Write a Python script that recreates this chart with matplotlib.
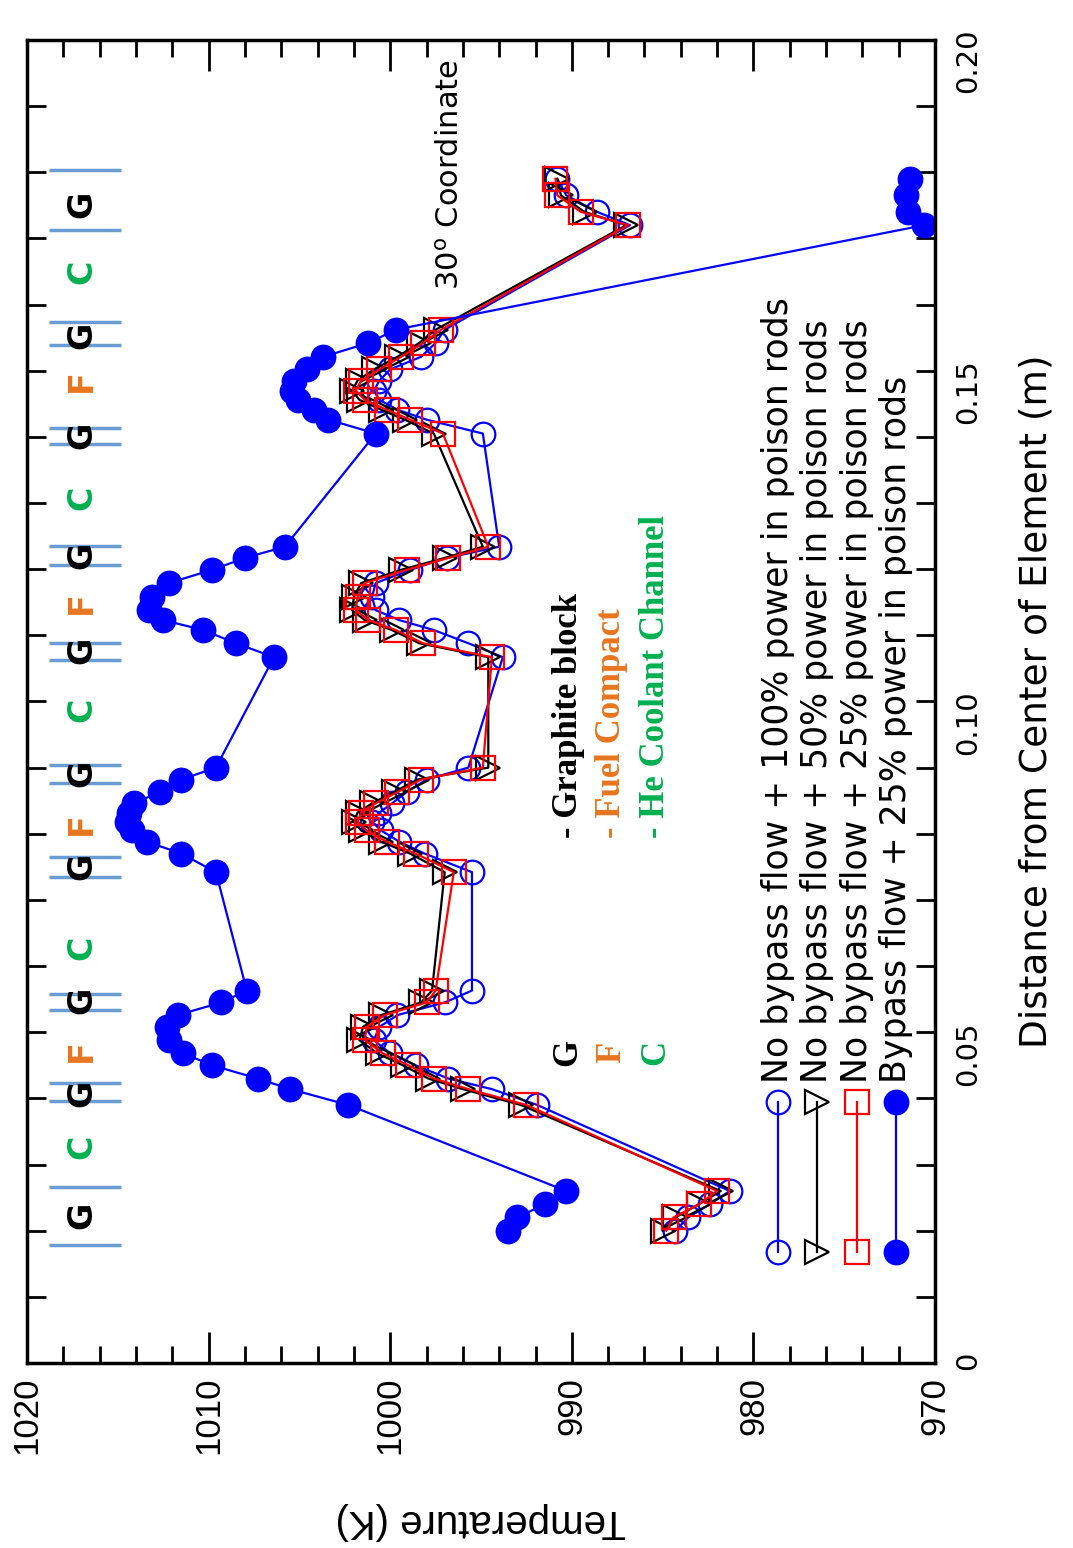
import matplotlib.pyplot as plt
from matplotlib.ticker import MultipleLocator, FuncFormatter

# radial positions (m), shared by all four cases
distance = [0.0200, 0.0220, 0.0240, 0.0260,
            0.0390, 0.0414, 0.0430, 0.0450, 0.0468, 0.0488, 0.0508, 0.0526, 0.0545, 0.0563,
            0.0742, 0.0770, 0.0788, 0.0805, 0.0818, 0.0832, 0.0846, 0.0863, 0.0882, 0.0900,
            0.1067, 0.1088, 0.1108, 0.1123, 0.1138, 0.1158, 0.1179, 0.1199, 0.1217, 0.1234,
            0.1405, 0.1426, 0.1441, 0.1456, 0.1470, 0.1485, 0.1502, 0.1521, 0.1542, 0.1562,
            0.1720, 0.1740, 0.1765, 0.1790]

temp_nobypass_100 = [984.3, 983.6, 982.4, 981.3,
                     991.9, 994.4, 996.8, 998.6, 1000.0, 1000.9, 1000.6, 999.6, 997.0, 995.5,
                     995.5, 998.1, 999.5, 1000.5, 1001.0, 1000.6, 999.9, 999.1, 998.0, 995.7,
                     993.8, 995.7, 997.6, 999.5, 1000.8, 1001.0, 1000.8, 998.9, 996.9, 994.0,
                     994.9, 998.0, 999.6, 1000.6, 1000.9, 1000.6, 1000.0, 998.3, 997.5, 997.0,
                     986.8, 988.6, 990.3, 990.8]

temp_nobypass_50 = [985.0, 984.3, 983.0, 981.8,
                    992.8, 996.0, 997.9, 999.3, 1000.7, 1001.7, 1001.5, 1000.5, 998.3, 997.7,
                    997.0, 998.9, 1000.5, 1001.6, 1002.0, 1001.8, 1001.0, 999.8, 998.5, 994.6,
                    994.6, 998.4, 999.9, 1001.4, 1002.1, 1002.0, 1001.6, 999.4, 997.0, 994.9,
                    997.6, 999.2, 1000.5, 1001.7, 1002.1, 1001.8, 1000.9, 999.6, 998.4, 997.5,
                    987.0, 989.3, 990.6, 990.8]

temp_nobypass_25 = [984.8, 984.4, 983.0, 982.0,
                    992.5, 995.7, 997.6, 999.0, 1000.4, 1001.4, 1001.3, 1000.3, 998.0, 997.5,
                    996.5, 998.6, 1000.2, 1001.3, 1001.8, 1001.6, 1000.8, 999.6, 998.3, 994.9,
                    994.4, 998.2, 999.7, 1001.2, 1001.9, 1001.8, 1001.4, 999.1, 996.8, 994.6,
                    997.1, 998.9, 1000.2, 1001.4, 1001.9, 1001.6, 1000.6, 999.4, 998.2, 997.2,
                    986.9, 989.5, 990.8, 990.9]

temp_bypass_25 = [993.5, 993.0, 991.5, 990.3,
                  1002.3, 1005.5, 1007.3, 1009.8, 1011.4, 1012.2, 1012.3, 1011.7, 1009.3, 1007.9,
                  1009.6, 1011.5, 1013.4, 1014.2, 1014.5, 1014.4, 1014.1, 1012.7, 1011.5, 1009.6,
                  1006.4, 1008.5, 1010.3, 1012.5, 1013.3, 1013.1, 1012.2, 1009.8, 1008.0, 1005.8,
                  1000.8, 1003.4, 1004.2, 1005.1, 1005.4, 1005.3, 1004.6, 1003.7, 1001.2, 999.7,
                  970.6, 971.5, 971.6, 971.4]

labels = ['No bypass flow + 100% power in poison rods',
          'No bypass flow + 50% power in poison rods',
          'No bypass flow + 25% power in poison rods',
          'Bypass flow + 25% power in poison rods']

# material regions along the path
region_letters = ['G', 'C', 'G', 'F', 'G', 'C', 'G', 'F', 'G', 'C',
                  'G', 'F', 'G', 'C', 'G', 'F', 'G', 'C', 'G']
region_centers = [0.0224, 0.0327, 0.0408, 0.0473, 0.0549, 0.0627, 0.0751, 0.0816, 0.0892, 0.0987,
                  0.1078, 0.1149, 0.1221, 0.1308, 0.1403, 0.1485, 0.1554, 0.1649, 0.1751]
region_bounds = [0.0178, 0.0266, 0.0396, 0.0423, 0.0534, 0.0558, 0.0735, 0.0765, 0.0877, 0.0904,
                 0.1063, 0.1088, 0.1206, 0.1235, 0.1389, 0.1413, 0.1539, 0.1574, 0.1713, 0.1803]

ORANGE = '#e8741e'
GREEN = '#00b050'
letter_colors = {'G': 'black', 'F': ORANGE, 'C': GREEN}

series = [
    (temp_nobypass_100, dict(color='#0000ff', marker='o', mfc='none')),
    (temp_nobypass_50, dict(color='black', marker='>', mfc='none')),
    (temp_nobypass_25, dict(color='red', marker='s', mfc='none')),
    (temp_bypass_25, dict(color='#0000ff', marker='o', mfc='#0000ff')),
]

fig = plt.figure(figsize=(10.73, 15.48), dpi=100)
ax = fig.add_axes([0.0252, 0.1195, 0.8462, 0.8547])

for temps, style in series:
    ax.plot(temps, distance, lw=1.6, ms=17, mew=1.6, **style)

ax.set_xlim(1020, 970)
ax.set_ylim(0, 0.2)

# region boundaries and letters
ax.hlines(region_bounds, 1018.8, 1014.8, color='#6a9bd1', lw=2.5)
for letter, d in zip(region_letters, region_centers):
    ax.text(1017.0, d, letter, rotation=90, ha='center', va='center',
            fontsize=24, fontweight='bold', color=letter_colors[letter])

# hand-made legend, drawn rotated like the rest of the figure
for i, (lab, (temps, style)) in enumerate(zip(labels, series)):
    xa = 0.827 + i * 0.0433
    ax.plot([xa, xa], [0.0839, 0.1973], transform=ax.transAxes, clip_on=False,
            lw=1.6, ms=17, mew=1.6, **style)
    ax.text(xa, 0.212, lab, transform=ax.transAxes, rotation=90,
            ha='center', va='bottom', fontsize=25)

# material key
key = [('G', '- Graphite block', 'black'),
       ('F', '- Fuel Compact', ORANGE),
       ('C', '- He Coolant Channel', GREEN)]
for i, (short, name, col) in enumerate(key):
    xa = 0.596 + i * 0.048
    ax.text(xa, 0.235, short, transform=ax.transAxes, rotation=90, ha='center', va='center',
            fontsize=25, fontweight='bold', family='Liberation Serif', color=col)
    ax.text(xa, 0.397, name, transform=ax.transAxes, rotation=90, ha='center', va='bottom',
            fontsize=25, fontweight='bold', family='Liberation Serif', color=col)

ax.text(0.466, 0.811, '30$^{\\mathrm{o}}$ Coordinate', transform=ax.transAxes,
        rotation=90, ha='center', va='bottom', fontsize=22)

# axes styling
ax.xaxis.set_major_locator(MultipleLocator(10))
ax.xaxis.set_minor_locator(MultipleLocator(2))
ax.yaxis.set_major_locator(MultipleLocator(0.05))
ax.yaxis.set_minor_locator(MultipleLocator(0.01))
ax.yaxis.set_major_formatter(FuncFormatter(lambda v, _: '0' if v == 0 else f'{v:.2f}'))

ax.tick_params(axis='x', which='both', direction='in', top=True, bottom=True, width=2,
               labelrotation=90, labelsize=25, pad=10, labelfontfamily='Liberation Sans')
ax.tick_params(axis='x', which='major', length=22)
ax.tick_params(axis='x', which='minor', length=12)
ax.tick_params(axis='y', which='both', direction='in', left=True, right=True, length=14, width=2,
               labelleft=False, labelright=True, labelrotation=90, labelsize=21, pad=14)

for sp in ax.spines.values():
    sp.set_linewidth(2.5)

ax.set_xlabel('Temperature (K)', rotation=180, fontsize=29, family='Liberation Sans', labelpad=34)
ax.yaxis.set_label_position('right')
ax.set_ylabel('Distance from Center of Element (m)', rotation=90, fontsize=27, labelpad=26)

fig.savefig('out.png', dpi=100)
